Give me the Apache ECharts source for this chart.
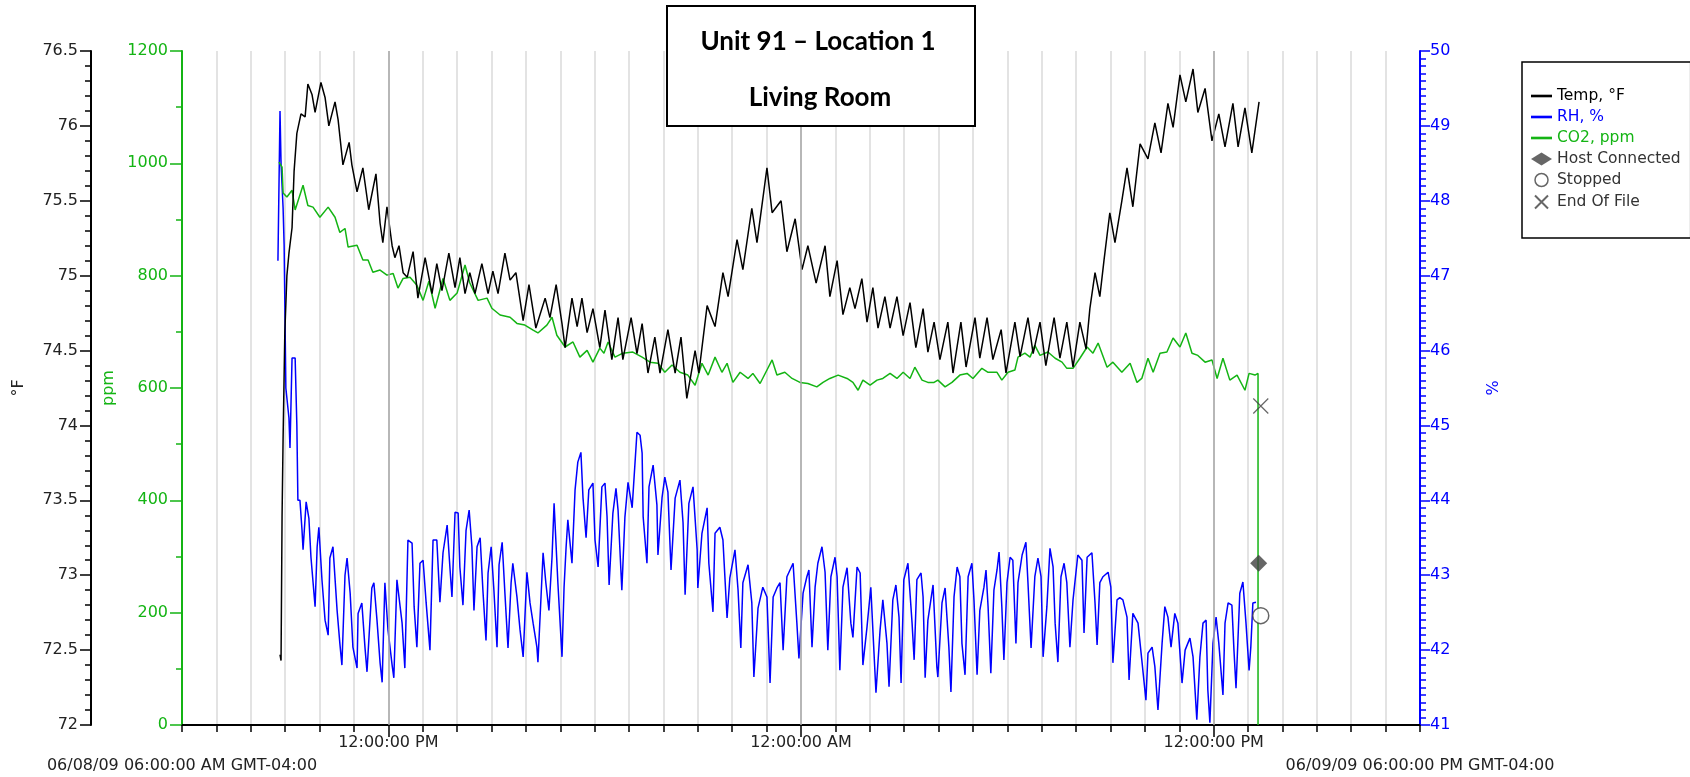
<!DOCTYPE html>
<html>
<head>
<meta charset="utf-8">
<title>Unit 91 – Location 1 / Living Room</title>
<script src="https://cdn.jsdelivr.net/npm/echarts@6/dist/echarts.min.js"></script>
<style>
  html, body { margin: 0; padding: 0; background: #fff; }
  #chart { width: 1690px; height: 777px; }
</style>
</head>
<body>
<div id="chart"></div>
<script>
// x values are hours after 06/08/09 06:00:00 AM
const tempData = [
  [2.85, 72.47], [2.88, 72.43], [2.91, 73.40], [2.94, 73.92], [2.99, 74.62], [3.05, 75.00],
  [3.11, 75.15], [3.20, 75.32], [3.26, 75.70], [3.34, 75.95], [3.46, 76.08], [3.58, 76.06],
  [3.66, 76.28], [3.78, 76.21], [3.87, 76.09], [4.04, 76.29], [4.16, 76.19], [4.27, 76.00],
  [4.45, 76.16], [4.54, 76.04], [4.68, 75.74], [4.86, 75.89], [4.94, 75.74], [5.09, 75.56],
  [5.26, 75.72], [5.43, 75.44], [5.64, 75.68], [5.76, 75.35], [5.84, 75.22], [5.96, 75.46],
  [6.11, 75.20], [6.19, 75.12], [6.31, 75.20], [6.43, 75.02], [6.55, 74.99], [6.72, 75.16],
  [6.86, 74.85], [7.07, 75.12], [7.27, 74.88], [7.41, 75.08], [7.56, 74.90], [7.76, 75.15],
  [7.94, 74.92], [8.08, 75.12], [8.23, 74.88], [8.37, 75.02], [8.52, 74.88], [8.72, 75.08],
  [8.90, 74.88], [9.04, 75.03], [9.19, 74.88], [9.39, 75.15], [9.54, 74.97], [9.71, 75.02],
  [9.92, 74.70], [10.09, 74.94], [10.29, 74.65], [10.56, 74.85], [10.70, 74.72], [10.88, 74.94],
  [11.05, 74.68], [11.14, 74.52], [11.34, 74.85], [11.49, 74.66], [11.63, 74.85], [11.78, 74.62],
  [11.95, 74.78], [12.15, 74.52], [12.30, 74.77], [12.50, 74.44], [12.68, 74.72], [12.82, 74.44],
  [13.06, 74.72], [13.23, 74.48], [13.38, 74.68], [13.55, 74.35], [13.75, 74.59], [13.90, 74.35],
  [14.13, 74.64], [14.34, 74.35], [14.51, 74.59], [14.68, 74.18], [14.92, 74.50], [15.03, 74.35],
  [15.27, 74.80], [15.50, 74.66], [15.73, 75.02], [15.88, 74.86], [16.14, 75.24], [16.31, 75.04],
  [16.57, 75.45], [16.72, 75.22], [17.01, 75.72], [17.16, 75.42], [17.42, 75.50], [17.59, 75.16],
  [17.83, 75.38], [18.03, 75.04], [18.20, 75.20], [18.44, 74.95], [18.70, 75.20], [18.84, 74.86],
  [19.05, 75.10], [19.22, 74.74], [19.42, 74.92], [19.57, 74.78], [19.77, 74.98], [19.92, 74.69],
  [20.09, 74.92], [20.24, 74.65], [20.44, 74.86], [20.59, 74.65], [20.79, 74.86], [20.97, 74.60],
  [21.17, 74.82], [21.34, 74.52], [21.55, 74.78], [21.69, 74.49], [21.87, 74.69], [22.04, 74.44],
  [22.27, 74.69], [22.42, 74.35], [22.65, 74.69], [22.80, 74.39], [23.06, 74.72], [23.20, 74.45],
  [23.41, 74.72], [23.58, 74.44], [23.82, 74.64], [23.96, 74.35], [24.22, 74.69], [24.37, 74.46],
  [24.60, 74.72], [24.75, 74.48], [24.95, 74.69], [25.12, 74.40], [25.36, 74.72], [25.53, 74.45],
  [25.73, 74.69], [25.91, 74.39], [26.11, 74.69], [26.29, 74.51], [26.40, 74.78], [26.55, 75.02],
  [26.69, 74.86], [26.81, 75.10], [26.98, 75.42], [27.13, 75.22], [27.33, 75.50], [27.48, 75.72],
  [27.65, 75.46], [27.86, 75.88], [28.09, 75.78], [28.29, 76.02], [28.47, 75.82], [28.67, 76.15],
  [28.82, 75.99], [29.02, 76.34], [29.19, 76.16], [29.40, 76.38], [29.54, 76.09], [29.75, 76.25],
  [29.95, 75.90], [30.15, 76.08], [30.33, 75.86], [30.56, 76.15], [30.71, 75.86], [30.91, 76.12],
  [31.11, 75.82], [31.32, 76.16]
];

const rhData = [
  [2.79, 47.2], [2.82, 48.2], [2.85, 49.2], [2.88, 48.5], [2.94, 47.9], [2.97, 47.4],
  [3.02, 45.5], [3.11, 45.1], [3.14, 44.7], [3.20, 45.9], [3.29, 45.9], [3.34, 45.0],
  [3.37, 44.0], [3.43, 44.0], [3.49, 43.6], [3.52, 43.34], [3.61, 43.98], [3.69, 43.76],
  [3.75, 43.24], [3.87, 42.58], [3.93, 43.38], [3.98, 43.64], [4.07, 42.94], [4.16, 42.4],
  [4.25, 42.2], [4.30, 43.23], [4.39, 43.38], [4.51, 42.53], [4.59, 42.09], [4.65, 41.8],
  [4.74, 43.0], [4.80, 43.23], [4.89, 42.76], [4.97, 42.04], [5.09, 41.76], [5.12, 42.49],
  [5.23, 42.63], [5.32, 42.04], [5.38, 41.71], [5.52, 42.83], [5.58, 42.9], [5.67, 42.4],
  [5.76, 41.83], [5.82, 41.57], [5.90, 42.9], [5.99, 42.27], [6.11, 41.8], [6.16, 41.63],
  [6.25, 42.94], [6.28, 42.96], [6.40, 42.36], [6.48, 41.76], [6.57, 43.47], [6.69, 43.43],
  [6.75, 42.58], [6.83, 42.04], [6.92, 43.16], [7.01, 43.2], [7.10, 42.63], [7.21, 42.0],
  [7.30, 43.47], [7.41, 43.47], [7.50, 42.64], [7.59, 43.3], [7.71, 43.67], [7.79, 43.11],
  [7.85, 42.71], [7.94, 43.84], [8.03, 43.83], [8.08, 43.11], [8.17, 42.6], [8.26, 43.6],
  [8.35, 43.87], [8.43, 43.38], [8.49, 42.53], [8.58, 43.38], [8.67, 43.5], [8.75, 42.8],
  [8.84, 42.13], [8.90, 43.03], [8.99, 43.38], [9.07, 42.8], [9.16, 42.04], [9.22, 43.14],
  [9.31, 43.44], [9.39, 42.76], [9.48, 42.03], [9.57, 42.9], [9.62, 43.16], [9.74, 42.71],
  [9.83, 42.27], [9.92, 41.91], [10.03, 43.04], [10.12, 42.63], [10.21, 42.36], [10.32, 42.04],
  [10.35, 41.84], [10.44, 42.71], [10.50, 43.3], [10.58, 42.9], [10.67, 42.53], [10.76, 43.24],
  [10.82, 43.96], [10.88, 43.38], [10.93, 42.9], [11.05, 41.91], [11.11, 42.84], [11.17, 43.38],
  [11.22, 43.74], [11.34, 43.16], [11.43, 44.14], [11.51, 44.51], [11.60, 44.64], [11.66, 44.04],
  [11.75, 43.5], [11.83, 44.14], [11.95, 44.23], [12.01, 43.47], [12.10, 43.11], [12.21, 44.18],
  [12.30, 44.23], [12.36, 43.78], [12.42, 42.87], [12.53, 43.83], [12.62, 44.16], [12.68, 43.87],
  [12.79, 42.8], [12.88, 43.78], [12.97, 44.24], [13.09, 43.9], [13.23, 44.91], [13.32, 44.87],
  [13.38, 44.63], [13.41, 43.78], [13.52, 43.16], [13.58, 44.18], [13.70, 44.47], [13.81, 43.94],
  [13.84, 43.27], [13.96, 44.04], [14.04, 44.31], [14.13, 44.11], [14.22, 43.07], [14.34, 44.03],
  [14.48, 44.27], [14.57, 43.7], [14.63, 42.74], [14.74, 43.96], [14.86, 44.18], [14.98, 43.34],
  [15.00, 42.83], [15.12, 43.56], [15.27, 43.9], [15.32, 43.16], [15.44, 42.51], [15.50, 43.56],
  [15.64, 43.64], [15.73, 43.47], [15.85, 42.43], [15.93, 42.96], [16.08, 43.34], [16.17, 42.8],
  [16.25, 42.03], [16.31, 42.9], [16.46, 43.14], [16.57, 42.63], [16.63, 41.64], [16.75, 42.56],
  [16.89, 42.84], [17.01, 42.71], [17.10, 41.56], [17.19, 42.71], [17.30, 42.83], [17.39, 42.9],
  [17.48, 42.0], [17.59, 42.98], [17.77, 43.16], [17.88, 42.36], [17.94, 41.89], [18.06, 42.76],
  [18.17, 42.98], [18.23, 43.07], [18.32, 42.04], [18.41, 42.84], [18.49, 43.16], [18.61, 43.38],
  [18.70, 43.04], [18.78, 42.0], [18.87, 42.98], [18.99, 43.24], [19.05, 42.98], [19.13, 41.73],
  [19.22, 42.84], [19.34, 43.1], [19.45, 42.36], [19.51, 42.17], [19.63, 43.11], [19.72, 43.03],
  [19.80, 41.8], [19.92, 42.31], [20.03, 42.84], [20.09, 42.27], [20.18, 41.43], [20.30, 42.27],
  [20.38, 42.67], [20.50, 42.09], [20.56, 41.51], [20.67, 42.67], [20.76, 42.87], [20.85, 42.44],
  [20.91, 41.56], [20.99, 42.94], [21.11, 43.16], [21.23, 42.36], [21.29, 41.87], [21.37, 42.94],
  [21.49, 43.03], [21.55, 42.71], [21.61, 41.63], [21.69, 42.4], [21.84, 42.87], [21.95, 41.78],
  [21.98, 41.64], [22.10, 42.63], [22.19, 42.83], [22.30, 42.04], [22.36, 41.44], [22.45, 42.71],
  [22.54, 43.11], [22.62, 42.98], [22.68, 42.09], [22.77, 41.67], [22.86, 42.98], [22.97, 43.16],
  [23.03, 42.67], [23.12, 41.67], [23.20, 42.53], [23.32, 42.84], [23.38, 43.07], [23.44, 42.58],
  [23.52, 41.69], [23.61, 42.8], [23.70, 43.07], [23.76, 43.31], [23.84, 42.58], [23.90, 41.87],
  [23.99, 42.9], [24.08, 43.24], [24.16, 43.2], [24.25, 42.09], [24.31, 42.9], [24.43, 43.27],
  [24.54, 43.44], [24.60, 42.9], [24.69, 42.03], [24.80, 42.98], [24.89, 43.23], [24.98, 42.98],
  [25.04, 41.91], [25.15, 42.58], [25.24, 43.36], [25.33, 43.11], [25.39, 42.36], [25.47, 41.84],
  [25.56, 42.98], [25.65, 43.16], [25.73, 42.9], [25.82, 42.04], [25.91, 42.67], [26.05, 43.27],
  [26.17, 43.2], [26.23, 42.23], [26.32, 43.24], [26.46, 43.3], [26.55, 42.63], [26.61, 42.07],
  [26.69, 42.9], [26.78, 42.98], [26.93, 43.04], [27.01, 42.84], [27.07, 41.83], [27.19, 42.67],
  [27.27, 42.7], [27.36, 42.67], [27.48, 42.44], [27.54, 41.6], [27.65, 42.49], [27.80, 42.36],
  [27.91, 41.87], [28.03, 41.33], [28.09, 41.96], [28.21, 42.04], [28.29, 41.78], [28.38, 41.2],
  [28.50, 42.09], [28.58, 42.58], [28.67, 42.44], [28.76, 42.04], [28.87, 42.49], [28.96, 42.36],
  [29.08, 41.56], [29.17, 42.0], [29.31, 42.16], [29.40, 41.91], [29.51, 41.07], [29.60, 41.91],
  [29.69, 42.36], [29.78, 42.4], [29.83, 41.47], [29.89, 41.03], [29.98, 42.09], [30.07, 42.44],
  [30.15, 42.09], [30.27, 41.4], [30.33, 42.36], [30.42, 42.63], [30.53, 42.6], [30.59, 42.0],
  [30.65, 41.49], [30.76, 42.76], [30.85, 42.91], [30.94, 42.36], [31.03, 41.73], [31.08, 42.04],
  [31.14, 42.63], [31.23, 42.64]
];

const co2Data = [
  [2.82, 1002], [2.91, 993], [2.94, 947], [3.05, 940], [3.20, 952], [3.29, 917], [3.52, 961],
  [3.66, 925], [3.81, 922], [4.01, 904], [4.25, 922], [4.45, 904], [4.59, 877], [4.74, 884],
  [4.83, 851], [5.09, 854], [5.26, 828], [5.41, 828], [5.55, 806], [5.76, 810], [5.96, 801],
  [6.14, 804], [6.28, 778], [6.43, 795], [6.63, 797], [6.83, 783], [7.01, 756], [7.18, 790],
  [7.36, 742], [7.59, 795], [7.79, 756], [8.00, 769], [8.23, 819], [8.37, 787], [8.61, 756],
  [8.87, 760], [9.01, 742], [9.25, 730], [9.54, 726], [9.74, 715], [9.97, 712], [10.21, 703],
  [10.35, 698], [10.61, 712], [10.76, 726], [10.90, 694], [11.14, 673], [11.37, 682], [11.57, 655],
  [11.78, 667], [11.95, 646], [12.15, 671], [12.27, 662], [12.39, 682], [12.59, 655], [12.82, 662],
  [13.11, 664], [13.38, 655], [13.61, 646], [13.84, 644], [14.04, 628], [14.25, 641], [14.48, 628],
  [14.71, 623], [14.92, 605], [15.12, 644], [15.30, 623], [15.50, 655], [15.70, 628], [15.85, 644],
  [16.02, 610], [16.23, 628], [16.46, 617], [16.60, 626], [16.81, 608], [17.01, 632], [17.16, 650],
  [17.30, 623], [17.53, 628], [17.74, 617], [17.97, 610], [18.20, 608], [18.46, 602], [18.64, 610],
  [18.84, 617], [19.08, 623], [19.34, 617], [19.51, 610], [19.66, 596], [19.80, 614], [20.01, 605],
  [20.21, 614], [20.38, 617], [20.59, 626], [20.79, 617], [20.97, 628], [21.17, 617], [21.31, 637],
  [21.52, 614], [21.69, 610], [21.87, 610], [21.98, 614], [22.19, 602], [22.39, 610], [22.62, 623],
  [22.83, 626], [23.00, 617], [23.26, 635], [23.44, 628], [23.70, 628], [23.84, 614], [24.02, 628],
  [24.22, 632], [24.31, 655], [24.51, 662], [24.66, 655], [24.80, 676], [24.95, 658], [25.18, 664],
  [25.39, 653], [25.59, 646], [25.73, 635], [25.91, 635], [26.11, 653], [26.32, 673], [26.49, 662],
  [26.64, 680], [26.90, 637], [27.07, 646], [27.33, 628], [27.57, 644], [27.77, 610], [27.91, 617],
  [28.09, 653], [28.24, 628], [28.44, 662], [28.64, 664], [28.82, 689], [29.02, 673], [29.19, 698],
  [29.37, 662], [29.54, 658], [29.75, 646], [29.95, 650], [30.10, 617], [30.27, 653], [30.47, 614],
  [30.68, 623], [30.91, 596], [31.03, 626], [31.20, 623], [31.29, 626], [31.29, 300], [31.29, 0]
];

// logger events, plotted against the °F scale
const hostConnected = [[31.31, 73.08]];
const stopped = [[31.37, 72.73]];
const endOfFile = [[31.37, 74.13]];

const noonHours = [6, 18, 30];
const noonLabels = ['12:00:00 PM', '12:00:00 AM', '12:00:00 PM'];
const rangeHours = [0, 36];
const rangeLabels = ['06/08/09 06:00:00 AM GMT-04:00', '06/09/09 06:00:00 PM GMT-04:00'];

const FONT = 'DejaVu Sans';
const GREEN = '#14b414';
const BLUE = '#0000ff';
const MARK = '#404040';
const LINE_ICON = 'path://M0,0H24V3H0Z';
const CROSS_ICON = 'path://M0,0L10,10M10,0L0,10';

const chart = echarts.init(document.getElementById('chart'), null, { renderer: 'canvas' });

function tickStyle(color) {
  return { color: color, width: 1.5 };
}

const option = {
  animation: false,
  backgroundColor: '#fff',
  textStyle: { fontFamily: FONT },
  grid: { left: 182, right: 270, top: 51, bottom: 52 },
  xAxis: [
    {
      type: 'value', min: 0, max: 36, interval: 1,
      axisLine: { onZero: false, lineStyle: { color: '#000', width: 2 } },
      axisTick: { length: 7, lineStyle: tickStyle('#000') },
      axisLabel: {
        customValues: noonHours,
        formatter: v => noonLabels[noonHours.indexOf(v)] || '',
        margin: 10, fontSize: 16, color: '#222', fontFamily: FONT
      },
      splitLine: { show: true, lineStyle: { color: '#dadada', width: 1.5 } }
    },
    {
      type: 'value', min: 0, max: 36, position: 'bottom',
      axisLine: { show: false, onZero: false },
      axisTick: { customValues: noonHours, length: 12, lineStyle: tickStyle('#000') },
      axisLabel: {
        customValues: rangeHours,
        formatter: v => rangeLabels[rangeHours.indexOf(v)] || '',
        margin: 33, fontSize: 16, color: '#222', fontFamily: FONT
      },
      splitLine: { show: false }
    }
  ],
  yAxis: [
    {
      type: 'value', min: 72, max: 76.5, interval: 0.5, position: 'left', offset: 91,
      name: '°F', nameLocation: 'middle', nameGap: 64,
      nameTextStyle: { fontSize: 16, color: '#222', fontFamily: FONT },
      axisLine: { show: true, onZero: false, lineStyle: { color: '#000', width: 2 } },
      axisTick: { show: true, length: 11, lineStyle: tickStyle('#000') },
      minorTick: { show: true, splitNumber: 5, length: 6, lineStyle: tickStyle('#000') },
      axisLabel: { margin: 13, fontSize: 16, color: '#222', fontFamily: FONT },
      splitLine: { show: false }
    },
    {
      type: 'value', min: 0, max: 1200, interval: 200, position: 'left', offset: 0,
      name: 'ppm', nameLocation: 'middle', nameGap: 57,
      nameTextStyle: { fontSize: 16, color: GREEN, fontFamily: FONT },
      axisLine: { show: true, onZero: false, lineStyle: { color: GREEN, width: 2 } },
      axisTick: { show: true, length: 12, lineStyle: tickStyle(GREEN) },
      minorTick: { show: true, splitNumber: 2, length: 6, lineStyle: tickStyle(GREEN) },
      axisLabel: { margin: 14, fontSize: 16, color: GREEN, fontFamily: FONT, formatter: v => String(v) },
      splitLine: { show: false }
    },
    {
      type: 'value', min: 41, max: 50, interval: 1, position: 'right', offset: 0,
      name: '%', nameLocation: 'middle', nameGap: 66,
      nameTextStyle: { fontSize: 16, color: BLUE, fontFamily: FONT },
      axisLine: { show: true, onZero: false, lineStyle: { color: BLUE, width: 2 } },
      axisTick: { show: true, length: 10, lineStyle: tickStyle(BLUE) },
      minorTick: { show: true, splitNumber: 10, length: 6, lineStyle: tickStyle(BLUE) },
      axisLabel: { margin: 10, fontSize: 16, color: BLUE, fontFamily: FONT },
      splitLine: { show: false }
    }
  ],
  legend: {
    orient: 'vertical',
    left: 1522, top: 62,
    padding: [26, 10, 27, 9],
    borderColor: '#000', borderWidth: 1.5,
    itemWidth: 21, itemHeight: 13, itemGap: 5,
    textStyle: { fontFamily: FONT, fontSize: 15.5, lineHeight: 16 },
    data: [
      { name: 'Temp, °F', icon: LINE_ICON, textStyle: { color: '#000' } },
      { name: 'RH, %', icon: LINE_ICON, textStyle: { color: BLUE } },
      { name: 'CO2, ppm', icon: LINE_ICON, textStyle: { color: GREEN } },
      { name: 'Host Connected', icon: 'diamond', textStyle: { color: '#333' } },
      {
        name: 'Stopped', icon: 'circle', textStyle: { color: '#333' },
        itemStyle: { color: '#fff', borderColor: MARK, borderWidth: 1.5 }
      },
      { name: 'End Of File', icon: CROSS_ICON, textStyle: { color: '#333' } }
    ]
  },
  graphic: [
    {
      type: 'rect', left: 666, top: 5, z: 100,
      shape: { width: 308, height: 120 },
      style: { fill: '#fff', stroke: '#000', lineWidth: 2 }
    },
    {
      type: 'text', x: 818, y: 42, z: 101,
      style: { text: 'Unit 91 – Location 1', font: 'bold 26px Lato', align: 'center', verticalAlign: 'middle', fill: '#000' }
    },
    {
      type: 'text', x: 820, y: 98, z: 101,
      style: { text: 'Living Room', font: 'bold 26px Lato', align: 'center', verticalAlign: 'middle', fill: '#000' }
    }
  ],
  series: [
    {
      // darker grid lines at noon and midnight
      type: 'line', name: 'midday', data: [], z: 1, silent: true,
      markLine: {
        silent: true, symbol: 'none', label: { show: false },
        lineStyle: { color: '#a8a8a8', width: 1.5, type: 'solid' },
        data: noonHours.map(h => ({ xAxis: h }))
      }
    },
    {
      name: 'RH, %', type: 'line', yAxisIndex: 2, data: rhData,
      showSymbol: false, symbol: 'none',
      itemStyle: { color: BLUE }, lineStyle: { color: BLUE, width: 1.5 }
    },
    {
      name: 'CO2, ppm', type: 'line', yAxisIndex: 1, data: co2Data,
      showSymbol: false, symbol: 'none',
      itemStyle: { color: GREEN }, lineStyle: { color: GREEN, width: 1.5 }
    },
    {
      name: 'Temp, °F', type: 'line', yAxisIndex: 0, data: tempData,
      showSymbol: false, symbol: 'none',
      itemStyle: { color: '#000' }, lineStyle: { color: '#000', width: 1.5 }
    },
    {
      name: 'Host Connected', type: 'scatter', yAxisIndex: 0, data: hostConnected,
      symbol: 'diamond', symbolSize: 17, z: 5,
      itemStyle: { color: MARK }
    },
    {
      name: 'Stopped', type: 'scatter', yAxisIndex: 0, data: stopped,
      symbol: 'circle', symbolSize: 16, z: 5,
      itemStyle: { color: '#fff', borderColor: MARK, borderWidth: 1.5 }
    },
    {
      name: 'End Of File', type: 'scatter', yAxisIndex: 0, data: endOfFile,
      symbol: CROSS_ICON, symbolSize: 15, z: 5,
      itemStyle: { color: 'none', borderColor: MARK, borderWidth: 1.2 }
    }
  ]
};

chart.setOption(option);
</script>
</body>
</html>
